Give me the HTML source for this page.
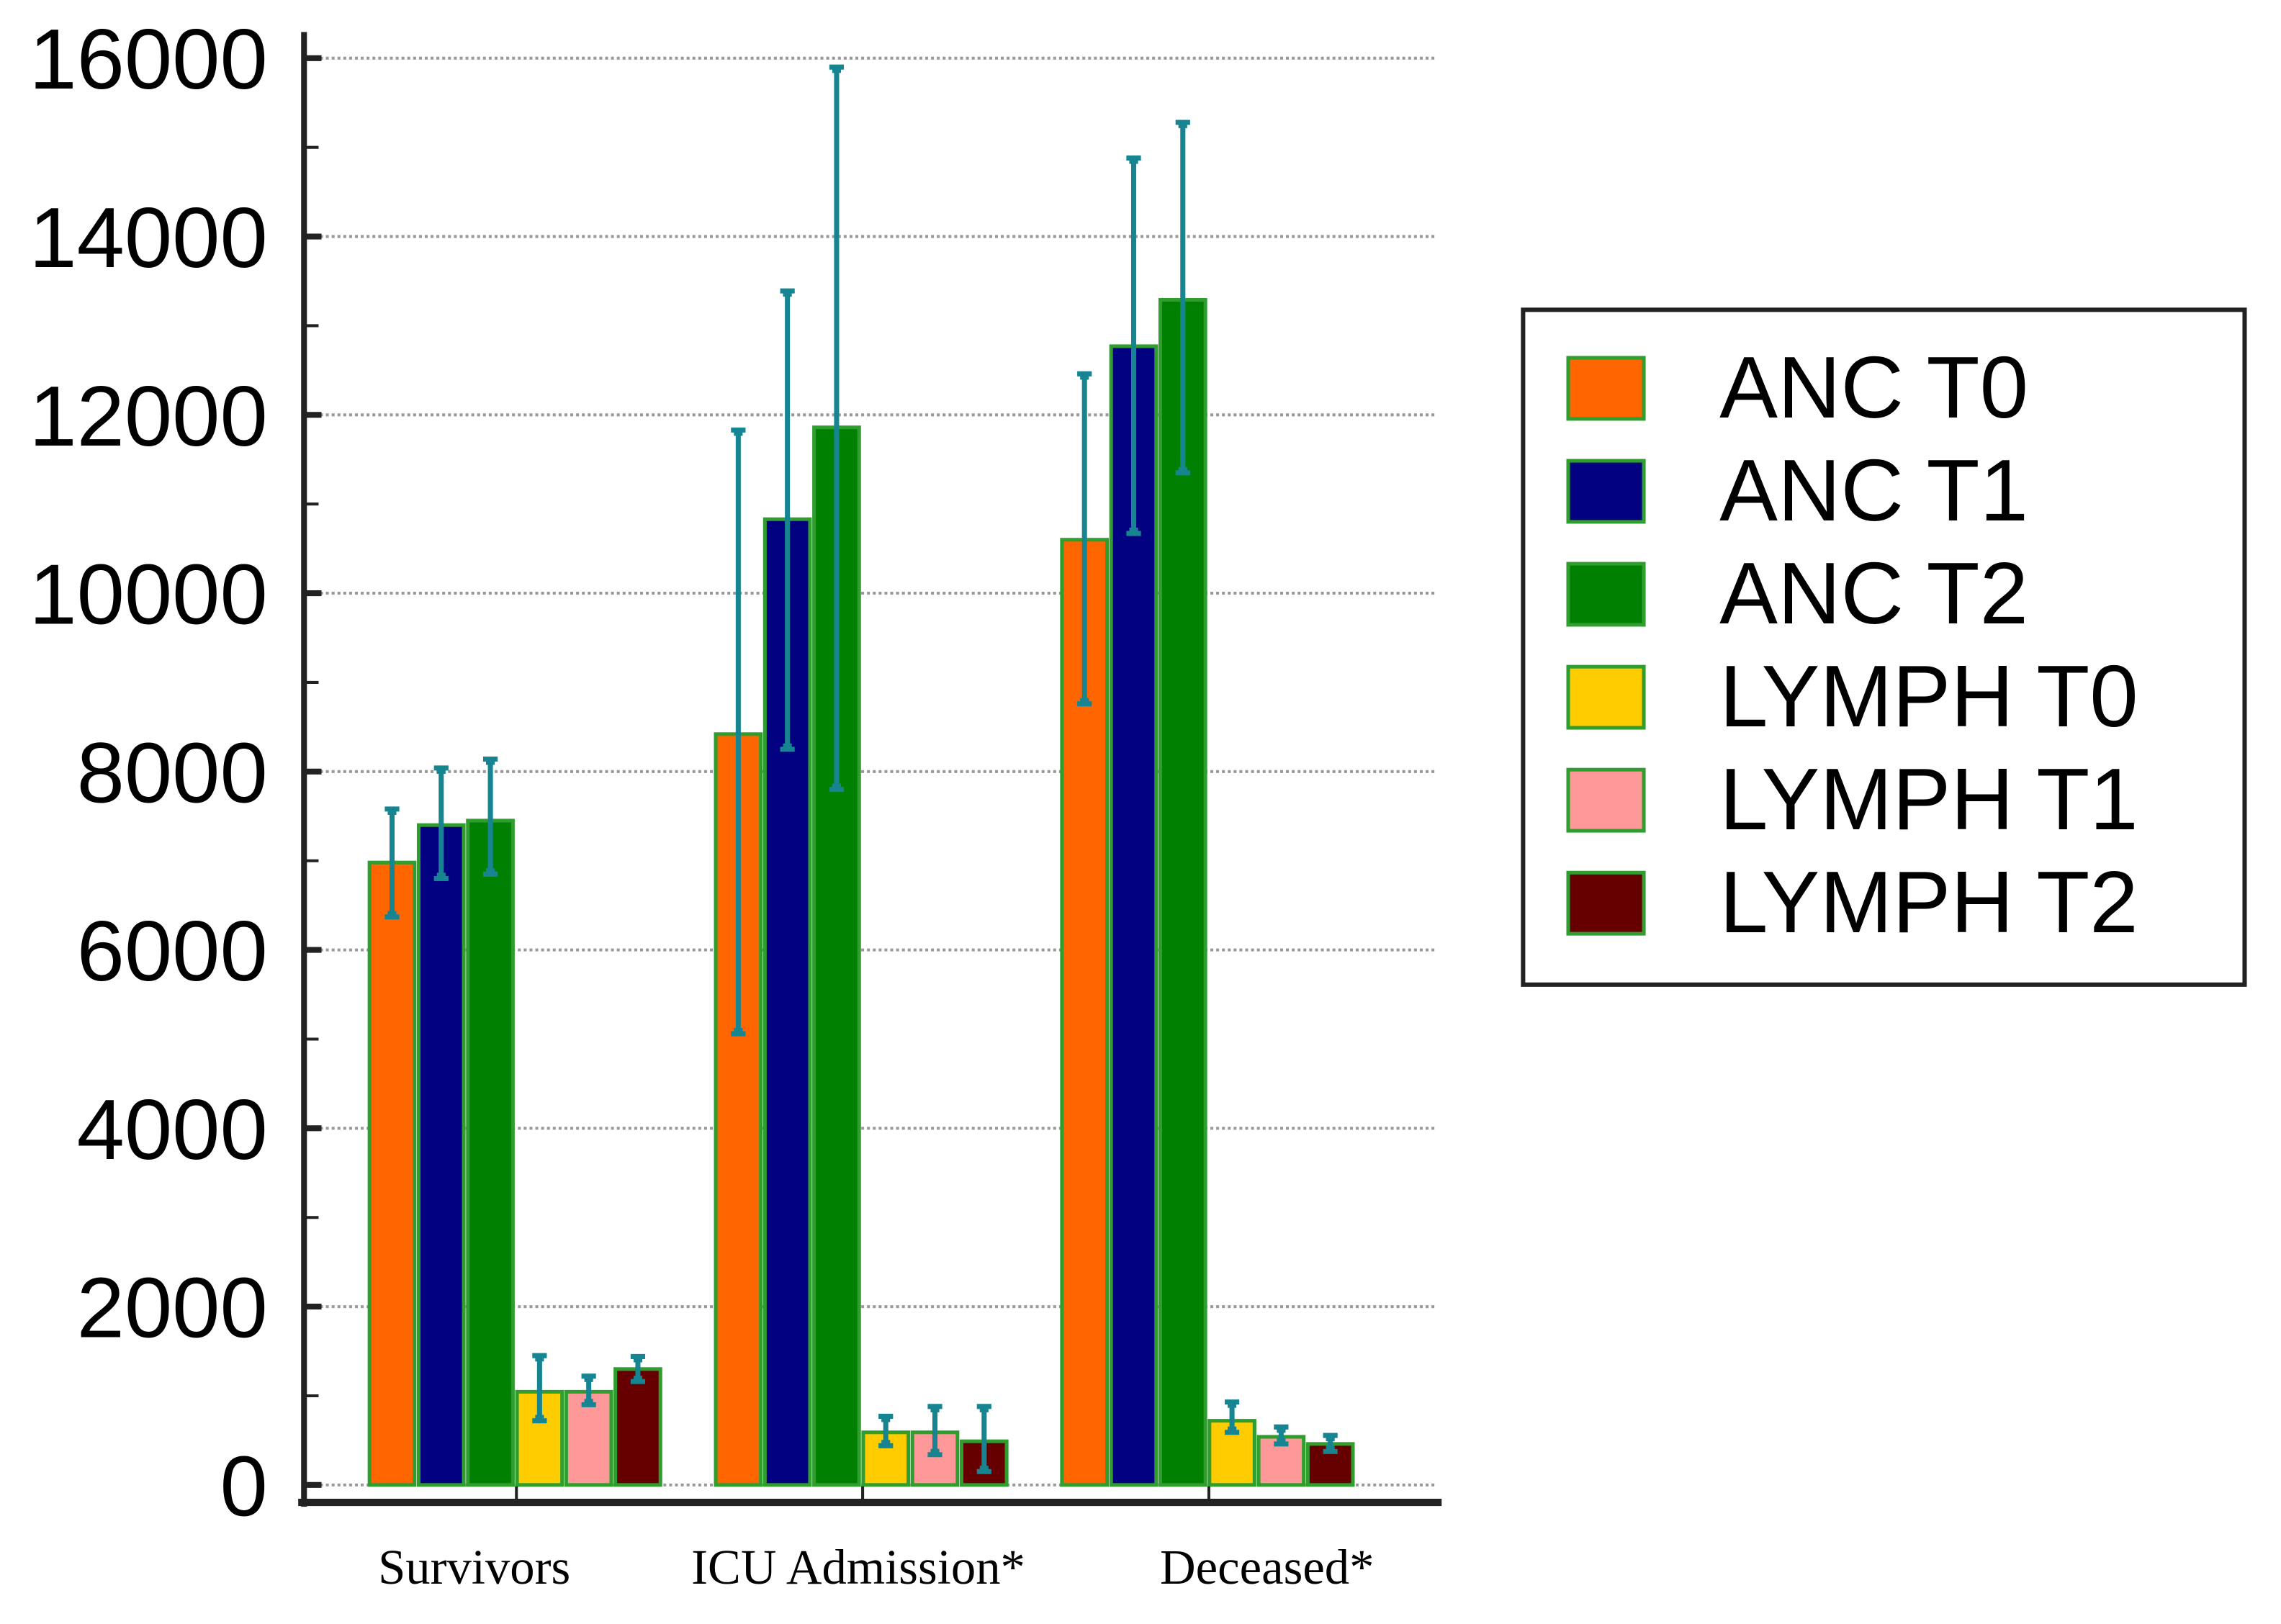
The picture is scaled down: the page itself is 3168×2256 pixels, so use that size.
<!DOCTYPE html>
<html><head><meta charset="utf-8"><style>
html,body{margin:0;padding:0;background:#fff;}
svg{display:block;}
</style></head><body>
<svg id="chart" width="3168" height="2256" viewBox="0 0 1568 1116.6" xmlns="http://www.w3.org/2000/svg">
<rect x="0" y="0" width="1568" height="1117" fill="#fff"/>
<g id="grid"></g><g id="bars"></g><g id="axes"></g><g id="legend"></g>
</svg>
<script>
const categories = ["Survivors", "ICU Admission*", "Deceased*"];
const seriesNames = ["ANC T0", "ANC T1", "ANC T2", "LYMPH T0", "LYMPH T1", "LYMPH T2"];
const seriesColors = ["#ff6600", "#000080", "#008000", "#ffcc00", "#ff9999", "#660000"];
const ancT0 = [6980, 8420, 10600];
const ancT1 = [7400, 10830, 12770];
const ancT2 = [7450, 11860, 13290];
const lymT0 = [1045, 590, 720];
const lymT1 = [1045, 590, 540];
const lymT2 = [1300, 490, 460];
const errHigh = [
  [7580, 11830, 12460],
  [8040, 13390, 14880],
  [8140, 15900, 15280],
  [1450, 770, 930],
  [1220, 880, 650],
  [1440, 880, 555]
];
const errLow = [
  [6370, 5060, 8760],
  [6800, 8250, 10670],
  [6850, 7800, 11350],
  [720, 440, 590],
  [900, 340, 460],
  [1160, 150, 375]
];
const yTicks = [0, 2000, 4000, 6000, 8000, 10000, 12000, 14000, 16000];
const series = [ancT0, ancT1, ancT2, lymT0, lymT1, lymT2];

const NS = "http://www.w3.org/2000/svg";
function mk(tag, attrs, parent){const e=document.createElementNS(NS,tag);for(const k in attrs)e.setAttribute(k,attrs[k]);parent.appendChild(e);return e;}
const y0=1021, yTop=40, yMax=16000;
function yScale(v){return y0-(v/yMax)*(y0-yTop);}
const groupStart=254, groupStep=238, barStep=33.8, barW=31;
function xBar(c,s){return groupStart+c*groupStep+s*barStep;}

const grid=document.getElementById('grid');
const axes=document.getElementById('axes');
yTicks.forEach(t=>{
  const y=yScale(t);
  const l=mk('line',{x1:212,x2:986,y1:y,y2:y,stroke:'#999','stroke-width':2,'stroke-dasharray':'2,2'},grid);
  
  
  const tk=mk('line',{x1:209,x2:221,y1:y,y2:y,stroke:'#222','stroke-width':4},axes);
  
  
  const tx=mk('text',{x:184,y:y+21,'text-anchor':'end','font-family':'Liberation Sans, Arial, sans-serif','font-size':59,fill:'#000'},axes);
  tx.textContent=t;
  
  
});
for(let v=1000;v<yMax;v+=2000){
  const y=yScale(v);
  const mt=mk('line',{x1:209,x2:219,y1:y,y2:y,stroke:'#222','stroke-width':2},axes);
  
  
}
const bars=document.getElementById('bars');
series.forEach((vals,s)=>{
  vals.forEach((v,c)=>{
    const x=xBar(c,s), y=yScale(v);
    const r=mk('rect',{x:x,y:y,width:barW,height:y0-y,fill:seriesColors[s],stroke:'#2f9e2f','stroke-width':2.5},bars);
    
    
  });
});
series.forEach((vals,s)=>{
  vals.forEach((v,c)=>{
    const cx=xBar(c,s)+barW/2, yh=yScale(errHigh[s][c]), yl=yScale(errLow[s][c]);
    const g=mk('g',{stroke:'#168591','stroke-width':3.5},bars);
    
    
    mk('line',{x1:cx,x2:cx,y1:yh,y2:yl},g);
    mk('line',{x1:cx-5,x2:cx+5,y1:yh,y2:yh},g);
    mk('line',{x1:cx-5,x2:cx+5,y1:yl,y2:yl},g);
    mk('rect',{x:cx-3,y:yh-1,width:6,height:5,fill:'#168591','stroke-width':0},g);
    mk('rect',{x:cx-3,y:yl-4,width:6,height:5,fill:'#168591','stroke-width':0},g);
  });
});
const ya=mk('line',{x1:209,x2:209,y1:22,y2:1036,stroke:'#222','stroke-width':4},axes);


const xa=mk('line',{x1:205,x2:991,y1:1033,y2:1033,stroke:'#222','stroke-width':5},axes);


const labelX=[326,590,871];
categories.forEach((cat,c)=>{
  const tx0=355+c*groupStep;
  const tk=mk('line',{x1:tx0,x2:tx0,y1:1022,y2:1033,stroke:'#222','stroke-width':2},axes);
  
  
  const t=mk('text',{x:labelX[c],y:1089,'text-anchor':'middle','font-family':'Liberation Serif, Times New Roman, serif','font-size':34,fill:'#000'},axes);
  t.textContent=cat;
  
  
});
const lg=document.getElementById('legend');
const box=mk('rect',{x:1047,y:213,width:496,height:464,fill:'#fff',stroke:'#222','stroke-width':3},lg);


seriesNames.forEach((n,i)=>{
  const cy=267+i*70.8;
  const sw=mk('rect',{x:1078,y:cy-21,width:52,height:42,fill:seriesColors[i],stroke:'#2f9e2f','stroke-width':2.5},lg);
  
  
  const t=mk('text',{x:1182,y:cy+20,'font-family':'Liberation Sans, Arial, sans-serif','font-size':60,fill:'#000'},lg);
  t.textContent=n;
  
  
});
</script>
</body></html>
